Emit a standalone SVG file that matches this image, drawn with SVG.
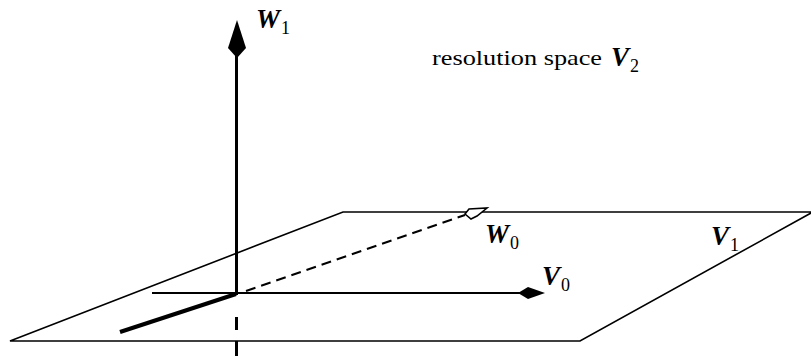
<svg xmlns="http://www.w3.org/2000/svg" width="811" height="356" viewBox="0 0 811 356">
<style>
.ln{stroke:#000;fill:none;stroke-linecap:butt}
text{font-family:'Liberation Serif','DejaVu Serif',serif;fill:#000}
.lbl{font-weight:bold;font-style:italic;font-size:27px}
.sub{font-weight:normal;font-style:normal;font-size:18px}
.txt{font-size:21px}
</style>
<g id="plane">
<polyline class="ln" stroke-width="1.6" points="811,212 343,212 10,341 580,341 811,213"/>
</g>
<g id="connectors">
<line class="ln" x1="236.5" y1="55" x2="236.5" y2="295" stroke-width="3"/>
<line class="ln" x1="236.5" y1="317" x2="236.5" y2="330" stroke-width="3"/>
<line class="ln" x1="236.5" y1="341" x2="236.5" y2="356" stroke-width="3"/>
<polygon points="237,20 246,48 237,58 228,48" fill="#000"/>
<line class="ln" x1="152" y1="293" x2="522" y2="293" stroke-width="2"/>
<polygon points="545,293 528,287 518,293 528,299" fill="#000"/>
<line class="ln" x1="236" y1="294" x2="120" y2="332" stroke-width="4"/>
<line class="ln" x1="246" y1="291" x2="465" y2="215" stroke-width="2" stroke-dasharray="10,6"/>
<polygon points="465,214 469,209 487,208 477,216 471,219" fill="#fff" stroke="#000" stroke-width="1.6"/>
</g>
<g id="W1"><text class="lbl" x="256" y="28" font-family="Liberation Serif">W<tspan class="sub" dx="1" dy="6">1</tspan></text></g>
<g id="V2"><text class="txt" x="432" y="65" textLength="170" lengthAdjust="spacingAndGlyphs" font-family="Liberation Serif">resolution space</text><text class="lbl" x="611" y="66" font-family="Liberation Serif">V<tspan class="sub" dx="1" dy="6">2</tspan></text></g>
<g id="W0"><text class="lbl" x="485" y="243" font-family="Liberation Serif">W<tspan class="sub" dx="1" dy="6">0</tspan></text></g>
<g id="V1"><text class="lbl" x="711" y="245" font-family="Liberation Serif">V<tspan class="sub" dx="1" dy="6">1</tspan></text></g>
<g id="V0"><text class="lbl" x="542" y="285" font-family="Liberation Serif">V<tspan class="sub" dx="1" dy="6">0</tspan></text></g>
</svg>
